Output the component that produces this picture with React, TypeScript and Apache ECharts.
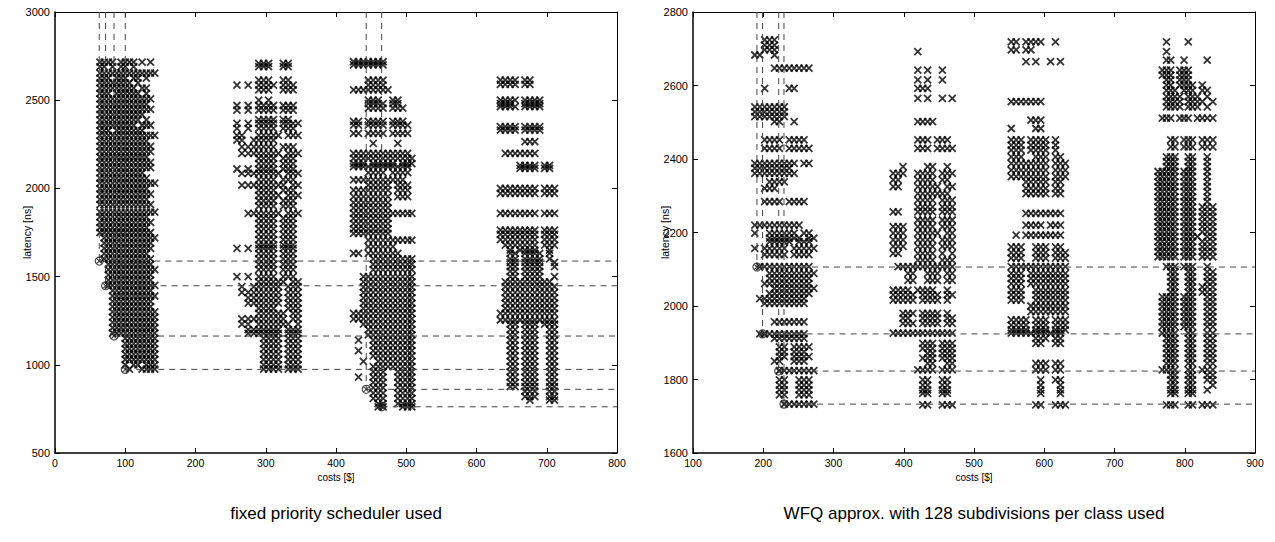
import { useEffect, useRef } from "react";
import * as echarts from "echarts";

const FONT = '"Liberation Sans", Arial, Helvetica, sans-serif';

// ---------- Left chart: fixed priority scheduler ----------
// Each cluster: column costs, and rows [latency, occupancy mask] ('#' = a measured design point)
const fpA_costs = [64, 70, 76, 82, 88, 94, 100, 106, 112, 118, 124, 130, 136, 142];
const fpA_rows: [number, string][] = [
  [2716, "####.####.#.#."], [2690, "##.#.##.#....."], [2654, "##############"], [2625, "###.###.##.#.."],
  [2598, "########.#...."], [2568, "#########.##.."], [2538, "###.######.#.."], [2508, "#############."],
  [2478, "############.."], [2448, "#############."], [2418, "###########..."], [2388, "##########.#.."],
  [2358, "#########.###."], [2328, "###.#######..."], [2300, "##############"], [2268, "############.."],
  [2238, "#############."], [2208, "#############."], [2178, "############.."], [2148, "#############."],
  [2118, "#############."], [2088, "###########..."], [2058, "############.."], [2030, "##############"],
  [1998, "############.."], [1968, "#############."], [1938, "############.."], [1908, "#############."],
  [1866, "##############"], [1838, "############.."], [1808, "#############."], [1778, "############.."],
  [1750, "#############."], [1720, ".#############"], [1690, ".############."], [1660, ".############."],
  [1630, ".###########.."], [1600, ".############."], [1570, "..###########."], [1540, "..############"],
  [1510, "..###########."], [1480, "..###########."], [1450, "..############"], [1420, "...##########."],
  [1390, "...###########"], [1360, "...##########."], [1330, "...##########."], [1300, "...###########"],
  [1270, "...###########"], [1240, "...###########"], [1210, "...###########"], [1180, "...###########"],
  [1150, "......########"], [1120, "......########"], [1090, "......########"], [1060, "......########"],
  [1030, "......########"], [1000, "......#.##.###"], [975, ".......#..####"],
];

const fpB_costs = [259, 266, 275, 283, 290, 297, 304, 311, 318, 325, 332, 339, 346];
const fpB_rows: [number, string][] = [
  [2709, "....###..##.."], [2690, "....###..##.."], [2614, "....###..##.."], [2586, "#.#.####.###."],
  [2558, "....###..###."], [2501, "....#.#......"], [2470, "#.#.####.###."], [2444, "#.#.####.###."],
  [2390, "....####.##.."], [2369, "#.#.####.####"], [2340, "#.#.####.###."], [2300, "##..#####.###"],
  [2274, "##.#####....."], [2235, ".#######.###."], [2199, ".########.###"], [2170, "....####.###."],
  [2140, "....####.###."], [2110, "#.#.####.###."], [2085, ".########.###"], [2050, "....####.###."],
  [2019, ".#########.##"], [1990, "....####.###."], [1960, "....#####.###"], [1930, "....####.###."],
  [1900, "....####.###."], [1859, "..#######.###"], [1830, "....####.###."], [1800, "....####.###."],
  [1770, "....####.###."], [1740, "....####.###."], [1710, "....####.###."], [1680, "....####.###."],
  [1660, "#.#.####.###."], [1630, "....####.###."], [1600, "....####.###."], [1570, "....####.###."],
  [1540, "....####.###."], [1500, "#.#.####.###."], [1470, "....######.##"], [1443, ".#.######.###"],
  [1410, ".########.###"], [1380, "..#######.###"], [1350, "..#######.###"], [1320, "....####..###"],
  [1292, "....######.##"], [1260, ".#########.##"], [1230, ".##.#######.#"], [1200, "..#######.###"],
  [1178, "..#######.###"], [1150, ".....####.###"], [1120, ".....####.###"], [1090, ".....####.###"],
  [1060, ".....####.###"], [1030, ".....####.###"], [1000, ".....####.###"], [975, ".....####.###"],
];

const fpC_costs = [425, 432, 439, 446, 453, 460, 467, 474, 481, 488, 495, 502, 508];
const fpC_rows: [number, string][] = [
  [2718, "#######......"], [2700, "#######......"], [2614, "...####......"], [2586, "...####......"],
  [2558, "########....."], [2501, "...###..##..."], [2480, "...####.##..."], [2455, "...####.###.."],
  [2380, "##.####.###.."], [2359, "##.####.####."], [2312, "##.####.####."], [2255, "....#....#..."],
  [2199, "############."], [2170, "#############"], [2140, "###.#####.###"], [2123, "############."],
  [2090, "...####.####."], [2048, "###########.."], [2019, "...#####.###."], [1990, "########.###."],
  [1953, "########.###."], [1920, "########....."], [1890, "########....."], [1859, "#############"],
  [1830, "########....."], [1800, "########....."], [1770, "########....."], [1745, "########....."],
  [1707, "...##########"], [1670, "...######...."], [1632, "##.#######..."], [1600, "....#########"],
  [1570, "....#########"], [1540, "....#########"], [1500, "..###########"], [1470, "..###########"],
  [1440, "..###########"], [1410, "..###########"], [1380, "..###########"], [1350, "..###########"],
  [1320, "..###########"], [1292, "#############"], [1260, "#############"], [1230, "..###########"],
  [1200, "...##########"], [1170, "...##########"], [1140, ".#..#########"], [1110, "....#########"],
  [1080, ".#..#########"], [1050, "....#########"], [1020, "..#..########"], [990, "....#########"],
  [960, "....###..####"], [930, ".#..###..####"], [900, "....###..####"], [870, "....###..####"],
  [840, "....###..####"], [810, "....###..####"], [780, ".....##..####"], [762, ".....##...###"],
];

const fpD_costs = [634, 641, 648, 655, 662, 669, 676, 683, 690, 697, 704, 711];
const fpD_rows: [number, string][] = [
  [2614, "####.##....."], [2590, "####.##....."], [2501, "####.####..."], [2480, "###..####..."],
  [2463, "####.####..."], [2350, "####.####..."], [2330, "####.####..."], [2265, ".....###...."],
  [2199, ".#######...."], [2130, "....####.##."], [2114, "....####.##."], [2000, "########.###"],
  [1972, "########.###"], [1859, "########.###"], [1764, "########.###"], [1740, "########.###"],
  [1710, "########.###"], [1679, ".#######.###"], [1650, "..#.####..#."], [1632, "..##.####.#."],
  [1600, "..##.####.#."], [1580, "..##.####..#"], [1556, "..##.####..#"], [1530, "..##.####..."],
  [1500, "..##.####..#"], [1470, ".##########."], [1443, ".###########"], [1410, ".###########"],
  [1380, ".###########"], [1350, ".###########"], [1320, ".###########"], [1292, "############"],
  [1254, "############"], [1230, "..##.###.###"], [1200, "..##.###..##"], [1170, "..##.###..##"],
  [1140, "..##.###..##"], [1110, "..##.###..##"], [1080, "..##.###..##"], [1050, "..##.###..##"],
  [1020, "..##.###..##"], [990, "..##.###..##"], [960, "..##.###..##"], [930, "..##.###..##"],
  [900, "..##.###..##"], [876, "..##.###..##"], [850, ".....###..##"], [820, ".....###..##"],
  [800, "......#...##"],
];

// Pareto points (circled) of the left chart: [cost, latency]
const fpFront: [number, number][] = [[63, 1588], [72, 1448], [84, 1163], [100, 974], [443, 861], [465, 762]];

// ---------- Right chart: WFQ approximation ----------
const wfA_costs = [188, 195, 202, 209, 216, 223, 230, 237, 244, 251, 258, 265, 272];
const wfA_rows: [number, string][] = [
  [2724, "..###........"], [2710, "..###........"], [2697, "..###........"], [2683, "##..#........"],
  [2647, "....########."], [2592, "..#....##...."], [2542, "#######......"], [2528, "#######......"],
  [2515, "#######......"], [2502, "....##..#...."], [2452, "..####.####.."], [2429, "..####.#####."],
  [2388, "#########.##."], [2375, "########....."], [2361, "#########...."], [2338, "...####......"],
  [2320, "..###........"], [2284, "..####.####.."], [2220, "##########..."], [2198, "#..######.##."],
  [2185, "...#######.##"], [2175, "...#####.###."], [2157, "#.#####.#####"], [2140, "..#####.####."],
  [2107, ".###########."], [2089, "...##########"], [2075, "...#########."], [2061, "..##########."],
  [2048, "....#########"], [2034, "...#########."], [2020, ".##########.."], [2007, "..#########.."],
  [1957, "....#######.."], [1924, ".##########.."], [1912, "....#######.."], [1889, ".....##.####."],
  [1875, ".....##.###.."], [1862, ".....##.####."], [1850, "....##..###.."], [1824, ".....########"],
  [1799, ".....##..###."], [1785, ".....##..###."], [1772, ".....##..###."], [1758, ".....##..###."],
  [1733, "......#######"],
];

const wfB_costs = [385, 392, 399, 406, 413, 420, 427, 434, 441, 448, 455, 462, 469];
const wfB_rows: [number, string][] = [
  [2692, ".....#......."], [2642, ".....#.#..#.."], [2615, ".....#.#..#.."], [2592, ".....###....."],
  [2565, ".....#.#..#.#"], [2502, ".....####...."], [2452, ".....###.###."], [2429, ".....###.####"],
  [2379, "..#....##..#."], [2361, "###..####.###"], [2343, "##...####.##."], [2325, "##...#####.##"],
  [2306, ".....#######."], [2288, ".....####.###"], [2270, ".....####.###"], [2256, "##...####.###"],
  [2234, ".....####.###"], [2216, "###..####.###"], [2198, "###..#####.##"], [2180, "###..####.###"],
  [2162, "###..####.###"], [2143, "##...####.#.#"], [2125, ".....####.###"], [2107, ".############"],
  [2089, "...##..###.##"], [2070, "...##..###.##"], [2043, "####.####..#."], [2030, "#####.####.##"],
  [2016, "#####.####.#."], [1980, "..###.####.#."], [1967, "..##..####.##"], [1953, "..###.####.##"],
  [1926, "#############"], [1898, "......###.###"], [1885, "......###.###"], [1871, ".......##.###"],
  [1858, "......###.###"], [1844, ".......##..##"], [1826, ".....####.###"], [1799, "......##..##."],
  [1785, "......##..##."], [1772, "......##..##."], [1762, "......##..##."], [1731, "......##..###"],
];

const wfC_costs = [553, 560, 567, 574, 581, 588, 595, 602, 609, 616, 623, 630];
const wfC_rows: [number, string][] = [
  [2719, "##.####..#.."], [2697, "##.##......."], [2665, "...#.#..#.#."], [2556, "#######....."],
  [2506, "....###....."], [2483, "#....##....."], [2452, "###.####.#.."], [2438, "###.####.#.."],
  [2424, "###.####.#.."], [2406, "###..###.##."], [2388, "########.###"], [2370, "########.###"],
  [2352, "########.###"], [2338, "...#####.##."], [2320, "...#####.##."], [2306, "...#####.##."],
  [2252, "...########."], [2220, "...####.###."], [2193, ".#.########."], [2161, "###..###.##."],
  [2145, "###..###.###"], [2130, "###..###.###"], [2107, "############"], [2089, "###.########"],
  [2075, "###.########"], [2061, "###.########"], [2043, "###..#######"], [2030, "###..#######"],
  [2016, "###..#######"], [2000, "....########"], [1985, "....########"], [1962, "####.###.###"],
  [1948, "####.###.###"], [1935, "####.###.###"], [1926, "###########."], [1912, ".....###.##."],
  [1898, ".....##..##."], [1844, ".....###.##."], [1826, ".....###.##."], [1799, "......#..##."],
  [1785, "......#...#."], [1772, "......#...#."], [1762, "......#...#."], [1731, ".....##..###"],
];

const wfD_costs = [762, 768, 774, 780, 786, 793, 799, 805, 811, 818, 825, 832, 840];
const wfD_rows: [number, string][] = [
  [2719, "..#....#....."], [2692, "..#.........."], [2669, "..##..#....#."], [2642, ".###.###....."],
  [2628, ".###.###....."], [2615, "..##.###....."], [2601, "..##.####.#.."], [2587, "..###.###.##."],
  [2570, "..####.###.#."], [2556, "..####.####.#"], [2542, "..####.###.#."], [2511, ".###.###.####"],
  [2452, "...##.###.###"], [2433, "...##.###.###"], [2406, "..###..##..#."], [2393, "..###..##..#."],
  [2379, "..###..##..#."], [2366, "#####.###..#."], [2352, "#####.###..#."], [2338, "#####.###..#."],
  [2325, "#####.###..#."], [2311, "#####.###..#."], [2297, "#####.###..#."], [2284, "#####.###..#."],
  [2270, "#####.###.###"], [2256, "#####.###.###"], [2243, "#####.###.###"], [2229, "#####.###.###"],
  [2216, "#####.###.###"], [2202, "#####.###.###"], [2189, "#####.####.##"], [2175, "#####.###.###"],
  [2161, "#####.###.###"], [2148, "#####.###.###"], [2134, "#####.###.###"], [2107, "..###.###..#."],
  [2093, "...##..##..##"], [2079, "...##..##..##"], [2066, "...##..##..##"], [2052, "...##..##.###"],
  [2038, "...##..##.###"], [2025, ".####.###..##"], [2011, ".####.###..##"], [1998, ".####.###..##"],
  [1984, ".####.###..##"], [1971, ".####.###..##"], [1957, ".####.###..##"], [1944, ".####.###..##"],
  [1926, ".####..##..##"], [1912, "..###..##..##"], [1898, "..###..##..##"], [1885, "..###..##..##"],
  [1871, "..###..##..##"], [1858, "..###..##..##"], [1844, "..###..##..##"], [1826, ".####..##.###"],
  [1812, "...##..##..##"], [1799, "...##..##..##"], [1785, "...##..##...#"], [1772, "...##..##..#."],
  [1762, "...##..##...."], [1731, "..###..##.###"],
];

const wfFront: [number, number][] = [[191, 2106], [199, 1924], [222, 1823], [229.5, 1733]];

// axis ranges [min, max, interval]
const fpCostRange = [0, 800, 100];
const fpLatRange = [500, 3000, 500];
const wfCostRange = [100, 900, 100];
const wfLatRange = [1600, 2800, 200];

const captions = ["fixed priority scheduler used", "WFQ approx. with 128 subdivisions per class used"];

function expand(costs: number[], rows: [number, string][]): number[][] {
  const out: number[][] = [];
  rows.forEach(([lat, mask]) => {
    for (let i = 0; i < mask.length && i < costs.length; i++) {
      if (mask[i] === "#") out.push([costs[i], lat]);
    }
  });
  return out;
}

const X_MARK = "path://M0,0L10,10M10,0L0,10";
const O_MARK = "path://M0,5A5,5,0,1,1,10,5A5,5,0,1,1,0,5ZM1.6,1.6L8.4,8.4M8.4,1.6L1.6,8.4";

function buildOption() {
  const grids = [
    { left: 55, top: 12, width: 562, height: 441 },
    { left: 693, top: 12, width: 562, height: 441 },
  ];
  const ranges = [
    { x: fpCostRange, y: fpLatRange },
    { x: wfCostRange, y: wfLatRange },
  ];
  const plain = (v: number) => String(v);
  const xAxis: any[] = [];
  const yAxis: any[] = [];
  ranges.forEach((r, gi) => {
    const common = { type: "value", gridIndex: gi, splitLine: { show: false } };
    xAxis.push({
      ...common,
      position: "bottom",
      min: r.x[0], max: r.x[1], interval: r.x[2],
      axisLine: { onZero: false, lineStyle: { color: "#000", width: 1.5 } },
      axisTick: { inside: true, length: 5, lineStyle: { color: "#000", width: 1 } },
      axisLabel: { color: "#000", fontSize: 10.5, fontFamily: FONT, margin: 4, formatter: plain },
      name: "costs [$]",
      nameLocation: "middle",
      nameGap: 19,
      nameMoveOverlap: false,
      nameTextStyle: { color: "#000", fontSize: 10, fontFamily: FONT, verticalAlign: "top" },
    });
    xAxis.push({
      ...common,
      position: "top",
      min: r.x[0], max: r.x[1], interval: r.x[2],
      axisLine: { onZero: false, lineStyle: { color: "#000", width: 1 } },
      axisTick: { inside: true, length: 5, lineStyle: { color: "#000", width: 1 } },
      axisLabel: { show: false },
    });
    yAxis.push({
      ...common,
      position: "left",
      min: r.y[0], max: r.y[1], interval: r.y[2],
      axisLine: { onZero: false, lineStyle: { color: "#000", width: 1.5 } },
      axisTick: { inside: true, length: 5, lineStyle: { color: "#000", width: 1 } },
      axisLabel: { color: "#000", fontSize: 11, fontFamily: FONT, margin: 5, formatter: plain },
      name: "latency [ns]",
      nameLocation: "middle",
      nameGap: 23,
      nameMoveOverlap: false,
      nameTextStyle: { color: "#000", fontSize: 10.5, fontFamily: FONT },
    });
    yAxis.push({
      ...common,
      position: "right",
      min: r.y[0], max: r.y[1], interval: r.y[2],
      axisLine: { onZero: false, lineStyle: { color: "#000", width: 1 } },
      axisTick: { inside: true, length: 5, lineStyle: { color: "#000", width: 1 } },
      axisLabel: { show: false },
    });
  });

  const scatter = (gi: number, data: number[][]) => ({
    type: "scatter",
    xAxisIndex: gi * 2,
    yAxisIndex: gi * 2,
    data,
    symbol: X_MARK,
    symbolSize: 7,
    itemStyle: { color: "rgba(0,0,0,0)", borderColor: "#000", borderWidth: 1.8 },
    silent: true,
    progressive: 0,
    z: 2,
  });

  const front = (gi: number, pts: [number, number][]) => {
    const r = ranges[gi];
    const list: any[] = [];
    const ls = { color: "#444", width: 1, type: [6, 5] };
    pts.forEach(([c, l]) => {
      list.push({
        type: "line", xAxisIndex: gi * 2, yAxisIndex: gi * 2, silent: true, symbol: "none", z: 3,
        data: [[c, r.y[1]], [c, l]], lineStyle: ls,
      });
      list.push({
        type: "line", xAxisIndex: gi * 2, yAxisIndex: gi * 2, silent: true, symbol: "none", z: 3,
        data: [[c, l], [r.x[1], l]], lineStyle: ls,
      });
    });
    list.push({
      type: "scatter", xAxisIndex: gi * 2, yAxisIndex: gi * 2, data: pts, symbol: O_MARK, symbolSize: 8,
      itemStyle: { color: "rgba(0,0,0,0)", borderColor: "#222", borderWidth: 1.2 }, silent: true, z: 4,
    });
    return list;
  };

  const series = [
    scatter(0, expand(fpA_costs, fpA_rows)),
    scatter(0, expand(fpB_costs, fpB_rows)),
    scatter(0, expand(fpC_costs, fpC_rows)),
    scatter(0, expand(fpD_costs, fpD_rows)),
    ...front(0, fpFront),
    scatter(1, expand(wfA_costs, wfA_rows)),
    scatter(1, expand(wfB_costs, wfB_rows)),
    scatter(1, expand(wfC_costs, wfC_rows)),
    scatter(1, expand(wfD_costs, wfD_rows)),
    ...front(1, wfFront),
  ];

  return {
    animation: false,
    backgroundColor: "#fff",
    grid: grids,
    xAxis,
    yAxis,
    series,
    graphic: [
      {
        type: "text", x: 336, y: 513,
        style: { text: captions[0], fontSize: 17, fontFamily: FONT, fill: "#000", align: "center", verticalAlign: "middle" },
      },
      {
        type: "text", x: 974, y: 513,
        style: { text: captions[1], fontSize: 17, fontFamily: FONT, fill: "#000", align: "center", verticalAlign: "middle" },
      },
    ],
  };
}

export default function App() {
  const ref = useRef<HTMLDivElement>(null);
  useEffect(() => {
    document.body.style.margin = "0";
    if (!ref.current) return;
    const chart = echarts.init(ref.current, undefined, { renderer: "svg" });
    chart.setOption(buildOption() as any);
    return () => chart.dispose();
  }, []);
  return (
    <div
      ref={ref}
      style={{ position: "absolute", left: 0, top: 0, width: 1275, height: 542, background: "#fff" }}
    />
  );
}
